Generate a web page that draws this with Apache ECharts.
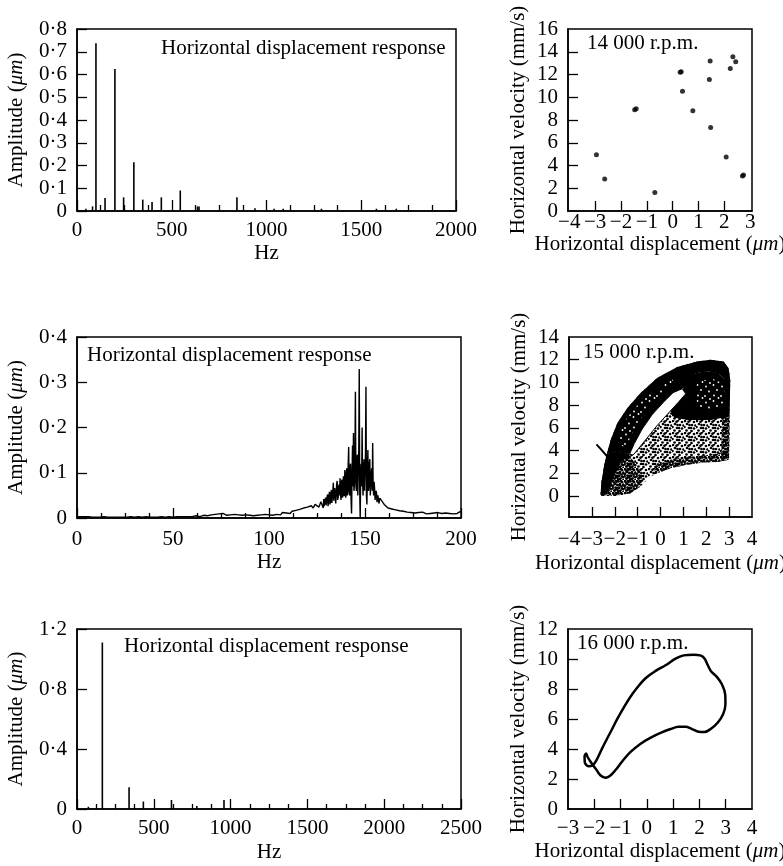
<!DOCTYPE html>
<html><head><meta charset="utf-8">
<script src="https://cdn.jsdelivr.net/npm/echarts@6/dist/echarts.min.js"></script>
<style>html,body{margin:0;padding:0;background:#fff}#c{width:783px;height:866px}</style>
</head><body><div id="c"></div>
<script>
// ---------- DATA ----------
// Panel 1 (14 000 rpm spectrum, 0-2000 Hz)
const spec1Freq = [47, 82, 100, 148, 200, 246, 300, 347, 396, 445, 545, 636, 644, 844, 939, 1040, 1088, 1290, 1580, 1685];
const spec1Amp  = [0.01, 0.02, 0.737, 0.057, 0.624, 0.06, 0.214, 0.05, 0.04, 0.06, 0.09, 0.02, 0.02, 0.06, 0.012, 0.01, 0.01, 0.01, 0.01, 0.01];

// Panel 3 (15 000 rpm spectrum, 0-200 Hz)
const spec3LowStart = 0, spec3LowStep = 1;        // 0..127 Hz
const spec3Low = [
 .003,.002,.003,.004,.003,.002,.003,.002,.002,.003,
 .002,.003,.002,.002,.003,.002,.002,.003,.002,.002,
 .002,.003,.002,.002,.002,.003,.002,.002,.003,.002,
 .002,.002,.003,.002,.002,.002,.003,.002,.002,.002,
 .002,.003,.002,.002,.003,.002,.002,.002,.003,.002,
 .002,.002,.003,.002,.003,.004,.003,.002,.003,.004,
 .003,.004,.005,.004,.003,.005,.006,.004,.005,.006,
 .007,.005,.008,.006,.009,.007,.010,.008,.006,.009,
 .007,.006,.008,.005,.007,.009,.006,.010,.007,.005,
 .006,.008,.005,.007,.006,.005,.007,.006,.008,.006,
 .007,.009,.006,.010,.008,.011,.007,.012,.009,.011,
 .013,.010,.015,.012,.017,.014,.019,.016,.022,.018,
 .024,.020,.027,.022,.030,.028,.024,.036];
const spec3PeakStart = 128, spec3PeakStep = 0.25; // 128..158 Hz
const spec3Peak = [
 .032,.022,.042,.026,  .025,.040,.045,.028,  .030,.046,.052,.026,  .028,.050,.058,.030,
 .035,.055,.062,.033,  .030,.060,.078,.038,  .040,.066,.070,.032,  .035,.075,.082,.040,
 .045,.068,.074,.050,  .088,.055,.040,.080,  .085,.045,.050,.092,  .095,.048,.106,.060,
 .045,.098,.110,.050,  .060,.120,.157,.055,  .050,.115,.120,.040,  .010,.095,.160,.070,
 .188,.060,.070,.130,  .279,.080,.060,.120,  .140,.050,.050,.150,  .329,.060,.000,.090,
 .120,.070,.200,.080,  .050,.110,.130,.060,  .060,.140,.290,.050,  .030,.100,.150,.060,
 .070,.120,.130,.050,  .050,.100,.110,.060,  .166,.070,.050,.080,  .065,.040,.040,.060,
 .055,.035,.035,.050,  .048,.032,.030,.044,  .042];
const spec3HighStart = 159, spec3HighStep = 1;    // 159..200 Hz
const spec3High = [
 .036,.030,
 .028,.022,.026,.020,.024,.018,.022,.016,.020,.015,
 .018,.013,.016,.012,.015,.011,.014,.012,.010,.013,
 .011,.009,.012,.010,.008,.011,.009,.012,.008,.010,
 .009,.011,.008,.010,.012,.009,.011,.010,.013,.015];

// Panel 5 (16 000 rpm spectrum, 0-2500 Hz)
const spec5Freq = [74, 165, 339, 432, 615, 780, 957];
const spec5Amp  = [0.015, 1.11, 0.145, 0.05, 0.06, 0.02, 0.06];

// Panel 2 (14 000 rpm Poincare points)
const phase14 = [[-2.95,4.94],[-2.63,2.82],[-1.47,8.9],[-1.41,8.98],[-0.69,1.62],[0.29,12.2],[0.33,12.25],
 [0.38,10.53],[0.78,8.82],[1.45,13.18],[1.42,11.56],[1.47,7.35],[2.07,4.74],[2.23,12.53],[2.33,13.56],[2.44,13.12],[2.7,3.08],[2.74,3.16]];

// Panel 4 (15 000 rpm cloud outlines)
const cloudEnvelope = [[-2.62,0.0],[-2.0,0.0],[-1.3,0.25],[-0.9,0.8],[-0.45,1.7],[-0.15,2.0],[0.45,2.45],[1.15,2.75],[1.9,2.95],[2.5,3.0],[2.98,3.2],[3.02,5.2],[3.02,7.9],[3.05,10.2],[2.98,11.25],[2.76,11.85],[2.18,12.0],[1.6,11.85],[0.73,11.35],[-0.15,10.38],[-0.87,9.06],[-1.45,7.74],[-1.89,6.41],[-2.18,4.94],[-2.33,3.76],[-2.47,2.6],[-2.59,1.1]];
const cloudLowerLeft = [[-2.62,0.0],[-2.0,0.0],[-1.3,0.25],[-0.9,0.8],[-0.8,1.8],[-1.1,2.9],[-1.5,3.8],[-2.0,3.9],[-2.35,3.7],[-2.47,2.6],[-2.59,1.1]];
const cloudBottomEdge = [[-0.3,1.9],[0.45,2.45],[1.15,2.75],[1.9,2.95],[2.5,3.0],[2.98,3.2],[3.0,4.0],[2.4,3.7],[1.5,3.5],[0.6,3.3],[-0.2,2.8]];
const cloudRightEdge = [[2.65,3.3],[3.0,3.3],[3.02,7.0],[2.7,7.0]];
const cloudLeftBlack = [[-2.62,0.1],[-2.3,0.3],[-2.05,1.6],[-1.75,3.0],[-1.35,3.5],[-1.35,3.7],[-1.95,3.9],[-2.35,3.7],[-2.47,2.6],[-2.59,1.1]];
const cloudArch = [[-2.35,3.7],[-2.18,4.94],[-1.89,6.41],[-1.45,7.74],[-0.87,9.06],[-0.15,10.38],[0.73,11.35],[1.6,11.85],[2.18,12.0],[2.76,11.85],[2.98,11.25],[3.05,10.2],[2.8,10.3],[2.5,10.8],[2.0,11.0],[1.4,10.75],[0.95,9.45],[0.55,9.1],[0.15,8.3],[-0.35,7.2],[-0.8,5.9],[-1.15,4.6],[-1.35,3.7],[-1.95,3.9]];
const cloudArchSpeckle = [[-1.95,4.9],[-1.7,6.2],[-1.2,7.6],[-0.6,8.8],[0.1,9.8],[0.5,10.3],[0.65,9.9],[0.05,9.0],[-0.5,7.8],[-1.0,6.4],[-1.35,5.0],[-1.6,4.3]];
const cloudFan = [[0.7,10.25],[1.4,10.75],[2.0,11.0],[2.5,10.8],[2.8,10.3],[3.05,10.2],[3.02,7.0],[2.2,6.7],[1.2,6.7],[0.6,6.9],[0.4,7.6],[0.8,8.3],[1.1,9.0],[1.0,9.5]];
const cloudFanInner = [[1.6,10.1],[2.3,10.3],[2.75,9.9],[2.85,8.0],[2.3,7.6],[1.7,7.7],[1.5,8.8]];
const cloudHole = [[-1.35,3.7],[-1.15,4.6],[-0.8,5.9],[-0.35,7.2],[0.15,8.3],[0.55,9.1],[0.95,9.45],[1.1,9.0],[0.8,8.3],[0.35,7.3],[-0.15,6.2],[-0.55,5.2],[-0.95,4.2],[-1.2,3.6]];
const cloudTail = [[-2.8,4.55],[-2.55,4.0],[-2.3,3.4],[-2.15,3.0]];

// Panel 6 (16 000 rpm orbit)
const orbit16 = [[-1.92,2.62],[-2.1,3.05],[-2.25,3.45],[-2.31,3.7],[-2.37,3.5],[-2.36,3.1],[-2.22,2.85],[-2.06,2.92],[-1.92,3.24],
 [-1.71,4.01],[-1.52,4.67],[-1.32,5.33],[-1.13,5.99],[-0.88,6.76],[-0.63,7.47],[-0.37,8.08],[-0.06,8.7],[0.32,9.19],[0.71,9.58],
 [1.09,10.02],[1.4,10.24],[1.78,10.29],[2.06,10.22],[2.2,10.02],[2.32,9.58],[2.44,9.19],[2.67,8.79],[2.86,8.3],[2.98,7.64],[2.99,6.98],
 [2.9,6.32],[2.7,5.77],[2.44,5.35],[2.19,5.13],[1.97,5.15],[1.72,5.33],[1.47,5.48],[1.21,5.48],[0.9,5.33],[0.52,5.07],[0.13,4.74],
 [-0.25,4.34],[-0.63,3.79],[-0.94,3.17],[-1.2,2.58],[-1.41,2.2],[-1.58,2.09],[-1.77,2.25],[-1.92,2.62]];

// Tick label sets
const ticks14x = [-3,-2,-1,0,1,2], labels14x = [-4,-3,-2,-1,0,1,2,3];
const labels14y = [0,2,4,6,8,10,12,14,16];
const ticks15x = [-3,-2,-1,0,1,2,3], labels15x = [-4,-3,-2,-1,0,1,2,3,4];
const ticks15y = [0,2,4,6,8,10,12], labels15y = [0,2,4,6,8,10,12,14];
const ticks16x = [-2,-1,0,1,2,3], labels16x = [-3,-2,-1,0,1,2,3,4];
const ticks16y = [2,4,6,8,10], labels16y = [0,2,4,6,8,10,12];

// ---------- BUILD ----------
const FONT = '"Liberation Serif","Times New Roman",Times,serif';
const FS = 21;
function nameStyle(){ return {fontFamily:FONT,fontSize:FS,color:'#000',rich:{i:{fontFamily:FONT,fontSize:FS,fontStyle:'italic',color:'#000'}}}; }
const lineS = {color:'#000',width:1.5};
const tickS = {color:'#000',width:1.3};
const dotFmt = v => (Math.abs(v) < 1e-9 ? '0' : v.toFixed(1).replace('.', '\u00B7'));
const minusFmt = v => (v < 0 ? '\u2212' + Math.abs(v) : String(v));
const plainFmt = v => String(v);

function specX(gi, max, interval, tl, ml, margin, gap){
  return {type:'value',gridIndex:gi,min:0,max:max,interval:interval,name:'Hz',nameLocation:'middle',nameGap:gap,nameTextStyle:nameStyle(),
    axisLine:{show:true,onZero:false,lineStyle:lineS},
    axisTick:{show:true,inside:true,length:tl,lineStyle:tickS},
    minorTick:{show:true,splitNumber:4,length:ml,lineStyle:tickS},
    axisLabel:{margin:margin,fontFamily:FONT,fontSize:FS,color:'#000',formatter:plainFmt},
    splitLine:{show:false},minorSplitLine:{show:false}};
}
function specY(gi, max, interval, gap){
  return {type:'value',gridIndex:gi,min:0,max:max,interval:interval,name:'Amplitude ({i|\u03BCm})',nameLocation:'middle',nameGap:gap,nameTextStyle:nameStyle(),
    axisLine:{show:true,onZero:false,lineStyle:lineS},
    axisTick:{show:true,inside:true,length:10,lineStyle:tickS},
    axisLabel:{margin:10,fontFamily:FONT,fontSize:FS,color:'#000',formatter:dotFmt},
    splitLine:{show:false}};
}
function phX(gi, min, max, tv, lv, margin, gap){
  return {type:'value',gridIndex:gi,min:min,max:max,name:'Horizontal displacement ({i|\u03BCm})',nameLocation:'middle',nameGap:gap,nameTextStyle:nameStyle(),
    axisLine:{show:true,onZero:false,lineStyle:lineS},
    axisTick:{show:true,inside:true,length:10,lineStyle:tickS,customValues:tv},
    axisLabel:{margin:margin,fontFamily:FONT,fontSize:FS,color:'#000',formatter:minusFmt,customValues:lv,showMinLabel:true,showMaxLabel:true},
    splitLine:{show:false}};
}
function phY(gi, min, max, tv, lv, gap){
  return {type:'value',gridIndex:gi,min:min,max:max,name:'Horizontal velocity (mm/s)',nameLocation:'middle',nameGap:gap,nameTextStyle:nameStyle(),
    axisLine:{show:true,onZero:false,lineStyle:lineS},
    axisTick:{show:true,inside:true,length:10,lineStyle:tickS,customValues:tv},
    axisLabel:{margin:10,fontFamily:FONT,fontSize:FS,color:'#000',customValues:lv,showMinLabel:true,showMaxLabel:true},
    splitLine:{show:false}};
}

const gridBase = {show:true,borderColor:'#000',borderWidth:1.5,backgroundColor:'transparent',containLabel:false,outerBoundsMode:'none'};
const grids = [
  {left:77,top:29,width:379,height:182},
  {left:568,top:29,width:184,height:182},
  {left:77,top:337,width:384,height:181},
  {left:569,top:337,width:183,height:180},
  {left:77,top:629,width:384,height:180},
  {left:568,top:629,width:184,height:180}
].map(g => Object.assign({}, gridBase, g));

const spec1 = spec1Freq.map((f,i)=>[f, spec1Amp[i]]);
const spec5 = spec5Freq.map((f,i)=>[f, spec5Amp[i]]);
const spec3 = [].concat(
  spec3Low.map((a,i)=>[spec3LowStart + i*spec3LowStep, a]),
  spec3Peak.map((a,i)=>[spec3PeakStart + i*spec3PeakStep, a]),
  spec3High.map((a,i)=>[spec3HighStart + i*spec3HighStep, a]));

function makePattern(size, dots, r, bg, fg){
  const c = document.createElement('canvas'); c.width = size; c.height = size;
  const g = c.getContext('2d');
  if (bg) { g.fillStyle = bg; g.fillRect(0,0,size,size); }
  g.fillStyle = fg;
  dots.forEach(d => { g.beginPath(); g.arc(d[0], d[1], r, 0, Math.PI*2); g.fill(); });
  return {image:c, repeat:'repeat'};
}
const dotsA = [[1,1],[6,0.5],[10,2],[3,4],[8,5],[0.5,7],[5,8],[10,8.5],[2.5,10.5],[7.5,11],[11.5,5.5],[4.5,1.8],[7,8],[5.5,5]];
const dotsB = [[1,1],[4,0.5],[6.5,1.5],[10,2],[3,3.5],[8,4],[11.5,4.5],[1,5.5],[5.5,5],[9.5,6.5],[0.5,8.5],[3.5,7.5],[7,7.5],[11,9],[2.5,10.5],[5.5,10],[8.5,10.5],[11.5,11.8],[6,12],[4,9],[9,1],[2,2.5]];
const dotsC = [[2,2.5],[9.5,1],[13,6],[5,7.5],[1,12],[10,11.5],[6,15],[14.5,14]];
const patMed = makePattern(12, dotsA, 1.35, null, '#000');
const patDense = makePattern(12, dotsB, 1.35, null, '#000');
const patInv = makePattern(16, dotsC, 0.9, '#000', '#fff');

const cloudShapes = [
  {pts:cloudEnvelope, fill:patMed},
  {pts:cloudLowerLeft, fill:patDense},
  {pts:cloudBottomEdge, fill:patDense},
  {pts:cloudRightEdge, fill:patDense},
  {pts:cloudLeftBlack, fill:'#000'},
  {pts:cloudArch, fill:'#000'},
  {pts:cloudArchSpeckle, fill:patInv},
  {pts:cloudFan, fill:'#000'},
  {pts:cloudFanInner, fill:patInv},
  {pts:cloudHole, fill:'#fff', stroke:'#000', lw:1},
  {pts:cloudTail, line:true, lw:2}
];

const titles = [
  ['Horizontal displacement response', 161, 48],
  ['Horizontal displacement response', 87, 355],
  ['Horizontal displacement response', 124, 646],
  ['14 000 r.p.m.', 587, 43],
  ['15 000 r.p.m.', 583, 352],
  ['16 000 r.p.m.', 577, 643]
];

const chart = echarts.init(document.getElementById('c'), null, {renderer:'canvas'});
chart.setOption({
  animation:false,
  backgroundColor:'#fff',
  grid: grids,
  xAxis: [
    specX(0, 2000, 500, 11, 6, 9, 32),
    phX(1, -4.05, 3.07, ticks14x, labels14x, 1, 22),
    specX(2, 200, 50, 10, 5, 11, 34),
    phX(3, -4, 4, ticks15x, labels15x, 12, 36),
    specX(4, 2500, 500, 10, 5, 9, 33),
    phX(5, -3, 4, ticks16x, labels16x, 9, 32)
  ],
  yAxis: [
    specY(0, 0.8, 0.1, 50),
    phY(1, 0, 16, [2,4,6,8,10,12,14], labels14y, 39),
    specY(2, 0.4, 0.1, 50),
    phY(3, -1.85, 14, ticks15y, labels15y, 39),
    specY(4, 1.2, 0.4, 50),
    phY(5, 0, 12, ticks16y, labels16y, 39)
  ],
  graphic: titles.map(t => ({type:'text', z:100, style:{text:t[0], x:t[1], y:t[2], fontFamily:FONT, fontSize:FS, fill:'#000', align:'left', verticalAlign:'middle'}})),
  series: [
    {type:'bar', xAxisIndex:0, yAxisIndex:0, data:spec1, barWidth:1.6, itemStyle:{color:'#000'}},
    {type:'scatter', xAxisIndex:1, yAxisIndex:1, data:phase14, symbol:'circle', symbolSize:5, itemStyle:{color:'#000'}},
    {type:'line', xAxisIndex:2, yAxisIndex:2, data:spec3, showSymbol:false, lineStyle:{color:'#000', width:1.4}},
    {type:'custom', xAxisIndex:3, yAxisIndex:3, clip:true,
      data: cloudShapes.map(s => [s.pts[0][0], s.pts[0][1]]),
      renderItem: function(params, api){
        const sh = cloudShapes[params.dataIndex];
        const pts = sh.pts.map(p => api.coord(p));
        if (sh.line) return {type:'polyline', shape:{points:pts}, style:{stroke:'#000', lineWidth:sh.lw, fill:null}};
        return {type:'polygon', shape:{points:pts}, style:{fill:sh.fill, stroke:sh.stroke || null, lineWidth:sh.lw || 0}};
      }},
    {type:'bar', xAxisIndex:4, yAxisIndex:4, data:spec5, barWidth:1.6, itemStyle:{color:'#000'}},
    {type:'line', xAxisIndex:5, yAxisIndex:5, data:orbit16, smooth:0.35, showSymbol:false, lineStyle:{color:'#000', width:2.5}}
  ]
});
</script></body></html>
